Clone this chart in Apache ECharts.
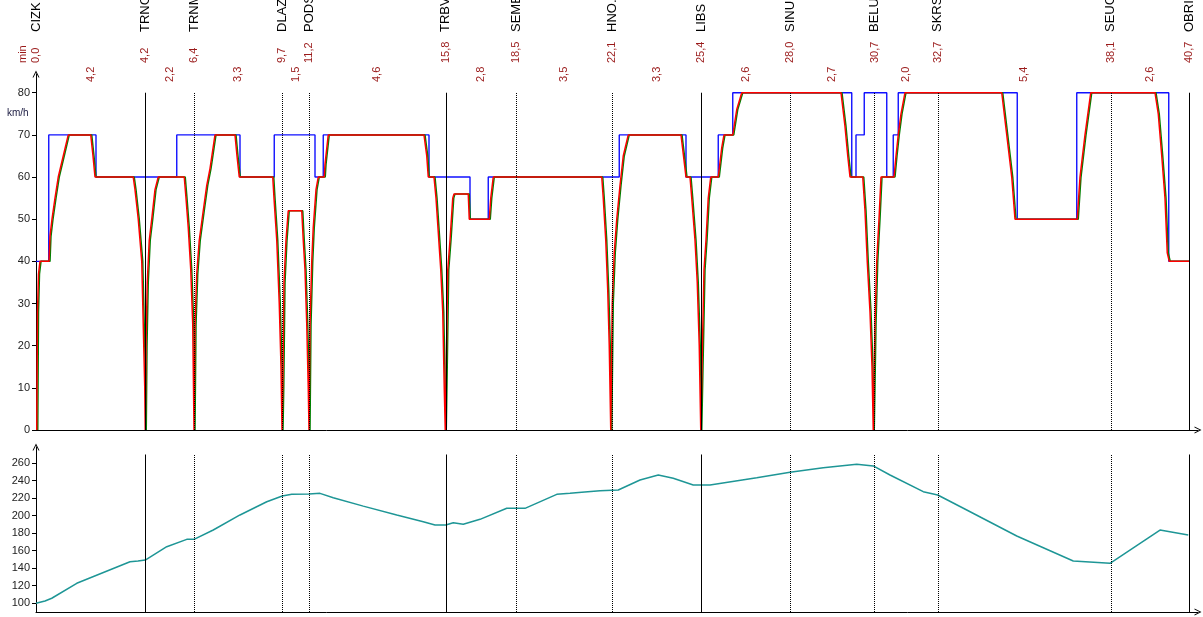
<!DOCTYPE html>
<html>
<head>
<meta charset="utf-8">
<title>Jízdní průběh</title>
<script src="https://cdn.jsdelivr.net/npm/echarts@6/dist/echarts.min.js"></script>
<style>
  html, body { margin: 0; padding: 0; background: #fff; }
  #chart { width: 1203px; height: 617px; }
</style>
</head>
<body>
<div id="chart"></div>
<script>
// stanice (poloha v km)
const stationNames = ["CIZK", "TRNC", "TRNM", "DLAZ", "PODS", "TRBV", "SEME", "HNO.", "LIBS", "SINU", "BELU", "SKRS", "SEUC", "OBRI"];
const stationKm = [0, 4.37, 6.32, 9.85, 10.92, 16.39, 19.2, 23.04, 26.61, 30.16, 33.55, 36.07, 42.99, 46.13];
const stationLine = ["none", "solid", "dotted", "dotted", "dotted", "solid", "dotted", "dotted", "solid", "dotted", "dotted", "dotted", "dotted", "solid"];
// jizdni doby (min)
const stationTime = ["0,0", "4,2", "6,4", "9,7", "11,2", "15,8", "18,5", "22,1", "25,4", "28,0", "30,7", "32,7", "38,1", "40,7"];
const sectionTime = ["4,2", "2,2", "3,3", "1,5", "4,6", "2,8", "3,5", "3,3", "2,6", "2,7", "2,0", "5,4", "2,6"];

// traťová rychlost [km, km/h] (schod)
const speedLimit = [
  [0, 40], [0.51, 70], [2.4, 60], [5.63, 70], [8.16, 60], [9.53, 70], [11.16, 60], [11.49, 70],
  [15.72, 60], [17.36, 50], [18.09, 60], [23.33, 70], [26.0, 60], [27.29, 70], [27.87, 80],
  [32.63, 60], [32.8, 70], [33.13, 80], [34.03, 60], [34.29, 70], [34.49, 80], [39.25, 50],
  [41.63, 80], [45.31, 40], [46.13, 40]
];

// skutečná rychlost
const speedRun = [
  [0.03, 0], [0.06, 28], [0.1, 37], [0.16, 40], [0.52, 40], [0.56, 46], [0.64, 50], [0.76, 55], [0.89, 60], [1.09, 65], [1.29, 70],
  [2.19, 70], [2.28, 65], [2.36, 60], [3.89, 60], [3.96, 57], [4.09, 50], [4.23, 40], [4.29, 25], [4.35, 10], [4.37, 0],
  [4.4, 20], [4.45, 35], [4.53, 45], [4.63, 50], [4.76, 57], [4.89, 60], [5.93, 60], [6.0, 55], [6.09, 48], [6.19, 38], [6.27, 25], [6.32, 0],
  [6.36, 25], [6.43, 37], [6.53, 45], [6.69, 52], [6.83, 58], [6.96, 62], [7.16, 70], [7.96, 70], [8.04, 65], [8.13, 60],
  [9.47, 60], [9.52, 55], [9.63, 45], [9.73, 30], [9.8, 15], [9.84, 0],
  [9.87, 10], [9.92, 35], [10.0, 45], [10.09, 52], [10.63, 52], [10.69, 45], [10.76, 38], [10.83, 25], [10.89, 10], [10.92, 0],
  [10.96, 25], [11.03, 40], [11.09, 48], [11.2, 57], [11.29, 60], [11.53, 60], [11.56, 63], [11.69, 70], [15.52, 70], [15.63, 65], [15.69, 60],
  [15.92, 60], [16.0, 55], [16.09, 47], [16.19, 38], [16.27, 28], [16.33, 10], [16.37, 0],
  [16.41, 15], [16.47, 38], [16.56, 45], [16.67, 55], [16.72, 56], [17.29, 56], [17.33, 50], [18.13, 50], [18.19, 55], [18.29, 60],
  [22.63, 60], [22.69, 55], [22.79, 45], [22.87, 33], [22.93, 20], [22.99, 0],
  [23.05, 30], [23.13, 42], [23.23, 50], [23.36, 58], [23.49, 65], [23.69, 70], [25.8, 70], [25.9, 65], [26.0, 60],
  [26.16, 60], [26.23, 55], [26.36, 45], [26.45, 35], [26.53, 20], [26.59, 0],
  [26.64, 15], [26.72, 38], [26.8, 45], [26.89, 55], [26.99, 60], [27.29, 60], [27.43, 67], [27.52, 70], [27.87, 70], [28.03, 76], [28.23, 80],
  [32.2, 80], [32.36, 72], [32.47, 65], [32.56, 60], [33.07, 60], [33.16, 52], [33.25, 40], [33.36, 28], [33.44, 15], [33.49, 0],
  [33.56, 25], [33.63, 40], [33.72, 50], [33.8, 60], [34.32, 60], [34.4, 65], [34.49, 70], [34.6, 75], [34.76, 80],
  [38.63, 80], [38.83, 70], [39.03, 60], [39.16, 50], [41.65, 50], [41.76, 60], [41.96, 70], [42.19, 80],
  [44.76, 80], [44.89, 75], [45.03, 65], [45.16, 55], [45.25, 42], [45.33, 40], [46.13, 40]
];

// simulovaná rychlost
const speedSim = [
  [0.07, 0], [0.1, 28], [0.14, 37], [0.2, 40], [0.56, 40], [0.6, 46], [0.68, 50], [0.8, 55], [0.93, 60], [1.13, 65], [1.33, 70],
  [2.23, 70], [2.32, 65], [2.4, 60], [3.93, 60], [4.0, 57], [4.13, 50], [4.27, 40], [4.33, 25], [4.39, 10], [4.41, 0],
  [4.44, 20], [4.49, 35], [4.57, 45], [4.67, 50], [4.8, 57], [4.93, 60], [5.97, 60], [6.04, 55], [6.13, 48], [6.23, 38], [6.31, 25], [6.36, 0],
  [6.4, 25], [6.47, 37], [6.57, 45], [6.73, 52], [6.87, 58], [7.0, 62], [7.2, 70], [8.0, 70], [8.08, 65], [8.17, 60],
  [9.51, 60], [9.56, 55], [9.67, 45], [9.77, 30], [9.84, 15], [9.88, 0],
  [9.91, 10], [9.96, 35], [10.04, 45], [10.13, 52], [10.67, 52], [10.73, 45], [10.8, 38], [10.87, 25], [10.93, 10], [10.96, 0],
  [11.0, 25], [11.07, 40], [11.13, 48], [11.24, 57], [11.33, 60], [11.57, 60], [11.6, 63], [11.73, 70], [15.56, 70], [15.67, 65], [15.73, 60],
  [15.96, 60], [16.04, 55], [16.13, 47], [16.23, 38], [16.31, 28], [16.37, 10], [16.41, 0],
  [16.45, 15], [16.51, 38], [16.6, 45], [16.71, 55], [16.76, 56], [17.33, 56], [17.37, 50], [18.17, 50], [18.23, 55], [18.33, 60],
  [22.67, 60], [22.73, 55], [22.83, 45], [22.91, 33], [22.97, 20], [23.03, 0],
  [23.09, 30], [23.17, 42], [23.27, 50], [23.4, 58], [23.53, 65], [23.73, 70], [25.84, 70], [25.94, 65], [26.04, 60],
  [26.2, 60], [26.27, 55], [26.4, 45], [26.49, 35], [26.57, 20], [26.63, 0],
  [26.68, 15], [26.76, 38], [26.84, 45], [26.93, 55], [27.03, 60], [27.33, 60], [27.47, 67], [27.56, 70], [27.91, 70], [28.07, 76], [28.27, 80],
  [32.24, 80], [32.4, 72], [32.51, 65], [32.6, 60], [33.11, 60], [33.2, 52], [33.29, 40], [33.4, 28], [33.48, 15], [33.53, 0],
  [33.6, 25], [33.67, 40], [33.76, 50], [33.84, 60], [34.36, 60], [34.44, 65], [34.53, 70], [34.64, 75], [34.8, 80],
  [38.67, 80], [38.87, 70], [39.07, 60], [39.2, 50], [41.69, 50], [41.8, 60], [42.0, 70], [42.23, 80],
  [44.8, 80], [44.93, 75], [45.07, 65], [45.2, 55], [45.29, 42], [45.37, 40], [46.13, 40]
];

// výškový profil [km, m n.m.]
const elevation = [
  [0, 100], [0.36, 102.6], [0.63, 105.7], [1.63, 122.8], [3.76, 147.5], [4.08, 148.3], [4.37, 149.4], [5.23, 164.6],
  [6.03, 173], [6.32, 173], [7.09, 183.7], [8.16, 200.9], [9.23, 216], [9.85, 222.6], [10.23, 224.5], [10.92, 224.9],
  [11.36, 225.6], [11.89, 220.6], [13.09, 211], [14.43, 200.9], [15.49, 193.2], [15.96, 189.4], [16.39, 189.4],
  [16.69, 192], [17.09, 190.2], [17.76, 195.9], [18.83, 208.5], [19.56, 208.5], [20.83, 224.5], [21.36, 225.6],
  [21.83, 226.8], [22.56, 228.6], [23.29, 229.4], [24.16, 240.9], [24.89, 246.6], [25.49, 242.8], [26.29, 235.1],
  [26.96, 235.1], [28.83, 243.5], [30.16, 249.7], [31.49, 254.9], [32.83, 258.8], [33.49, 256.9], [34.16, 246.6],
  [35.49, 227.5], [36.07, 223.7], [37.23, 206.6], [39.23, 176.9], [41.49, 148.3], [42.96, 145.7], [44.96, 183.7], [46.09, 178]
];

const speedTicks = [0, 10, 20, 30, 40, 50, 60, 70, 80];
const elevTicks = [100, 120, 140, 160, 180, 200, 220, 240, 260];

const FONT = "'Liberation Sans', Arial, sans-serif";
const TIME_COLOR = "#9a1a1a";
const arrow = "path://M5,0 L10,10 L8.6,10 L5,2.8 L1.4,10 L0,10 Z";

const myChart = echarts.init(document.getElementById("chart"));

// svislé čáry stanic
function stationMarks(y0, y1) {
  const data = [];
  stationKm.forEach((km, i) => {
    if (stationLine[i] === "none") return;
    data.push([
      { coord: [km, y0], lineStyle: { type: stationLine[i], color: "#000", width: 1 } },
      { coord: [km, y1] },
    ]);
  });
  return {
    silent: true,
    symbol: ["none", "none"],
    label: { show: false },
    animation: false,
    data: data,
  };
}

function vText(x, y, text, size, color) {
  return {
    type: "text",
    x: x,
    y: y,
    rotation: Math.PI / 2,
    style: { text: text, fontSize: size, fontFamily: FONT, fill: color, align: "left", verticalAlign: "middle" },
  };
}

function valueAxis(grid, min, max, ticks) {
  return {
    gridIndex: grid,
    type: "value",
    min: min,
    max: max,
    splitLine: { show: false },
    axisLine: { show: true, symbol: ["none", arrow], symbolSize: [7, 9], lineStyle: { color: "#000", width: 1 } },
    axisTick: { show: true, length: 4, customValues: ticks, lineStyle: { color: "#000" } },
    axisLabel: { customValues: ticks, fontSize: 11, color: "#222", margin: 6, fontFamily: FONT },
  };
}

function distAxis(grid) {
  return {
    gridIndex: grid,
    type: "value",
    min: 0,
    max: 46.48,
    splitLine: { show: false },
    axisLine: { show: true, symbol: ["none", arrow], symbolSize: [7, 9], lineStyle: { color: "#000", width: 1 } },
    axisTick: { show: false },
    axisLabel: { show: false },
  };
}

const option = {
  animation: false,
  backgroundColor: "#fff",
  grid: [
    { left: 36, right: 5, top: 74, bottom: 187, outerBoundsMode: "none" },
    { left: 36, right: 5, top: 447, bottom: 5, outerBoundsMode: "none" },
  ],
  xAxis: [distAxis(0), distAxis(1)],
  yAxis: [valueAxis(0, 0, 84.44, speedTicks), valueAxis(1, 90, 278.57, elevTicks)],
  graphic: [
    vText(22.5, 63, "min", 11, TIME_COLOR),
    {
      type: "text",
      x: 7,
      y: 113,
      style: { text: "km/h", fontSize: 10, fontFamily: FONT, fill: "#1a1a40", align: "left", verticalAlign: "middle" },
    },
  ],
  series: [
    {
      name: "limit",
      type: "line",
      xAxisIndex: 0,
      yAxisIndex: 0,
      step: "end",
      data: speedLimit,
      showSymbol: false,
      lineStyle: { color: "#1010ff", width: 1.4 },
      markLine: stationMarks(0, 80),
      z: 2,
    },
    {
      name: "sim",
      type: "line",
      xAxisIndex: 0,
      yAxisIndex: 0,
      data: speedSim,
      showSymbol: false,
      lineStyle: { color: "#008000", width: 1.5 },
      z: 3,
    },
    {
      name: "run",
      type: "line",
      xAxisIndex: 0,
      yAxisIndex: 0,
      data: speedRun,
      showSymbol: false,
      lineStyle: { color: "#ff0000", width: 1.5 },
      z: 4,
    },
    {
      name: "elev",
      type: "line",
      xAxisIndex: 1,
      yAxisIndex: 1,
      data: elevation,
      showSymbol: false,
      lineStyle: { color: "#1e9696", width: 1.5 },
      markLine: stationMarks(90, 270),
    },
    {
      // názvy stanic a časy
      type: "custom",
      xAxisIndex: 0,
      yAxisIndex: 0,
      clip: false,
      silent: true,
      data: stationKm.map((km, i) => [km, 0, i]),
      renderItem(params, api) {
        const i = api.value(2);
        const x = api.coord([api.value(0), 0])[0];
        return {
          type: "group",
          children: [
            vText(x, 32, stationNames[i], 13, "#000"),
            vText(x, 63, stationTime[i], 11, TIME_COLOR),
          ],
        };
      },
    },
    {
      // doby mezi stanicemi
      type: "custom",
      xAxisIndex: 0,
      yAxisIndex: 0,
      clip: false,
      silent: true,
      data: sectionTime.map((t, i) => [(stationKm[i] + stationKm[i + 1]) / 2, 0, i]),
      renderItem(params, api) {
        const x = api.coord([api.value(0), 0])[0];
        return vText(x, 82, sectionTime[api.value(2)], 11, TIME_COLOR);
      },
    },
  ],
};

myChart.setOption(option);
</script>
</body>
</html>
